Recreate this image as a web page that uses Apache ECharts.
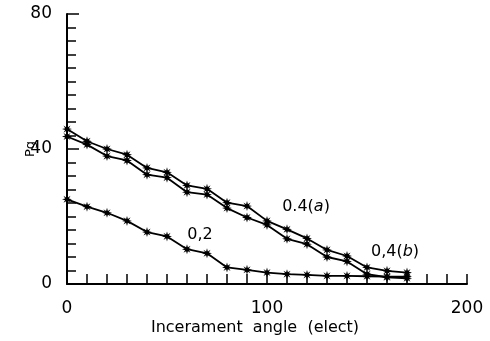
<!DOCTYPE html>
<html><head><meta charset="utf-8">
<script src="https://cdn.jsdelivr.net/npm/echarts@6/dist/echarts.min.js"></script>
<style>html,body{margin:0;padding:0;background:#fff}#c{width:490px;height:341px}</style>
</head><body><div id="c"></div>
<script>
const angles = [0,10,20,30,40,50,60,70,80,90,100,110,120,130,140,150,160,170];
const seriesA = [45.9,42.3,40.0,38.3,34.4,33.1,29.2,28.2,24.1,23.1,18.7,16.2,13.5,10.1,8.3,4.9,3.9,3.4];
const seriesB = [43.7,41.3,37.9,36.6,32.4,31.5,27.2,26.5,22.5,19.7,17.5,13.4,11.8,8.0,6.7,2.9,2.0,1.7];
const series02 = [25.1,22.9,21.1,18.7,15.4,14.1,10.3,9.1,4.9,4.2,3.4,2.9,2.7,2.4,2.4,2.3,2.2,2.2];
const annotations = [[119.5,23.0,'0.4({i|a})'],[164,9.4,'0,4({i|b})'],[66.5,14.5,'0,2']];
const xTicks = [0,100,200];
const yTicks = [0,40,80];

const FONT = 'DejaVu Sans';
const star = 'path://M0,-5L0.9,-1.9L3.54,-3.54L1.9,-0.9L5,0L1.9,0.9L3.54,3.54L0.9,1.9L0,5L-0.9,1.9L-3.54,3.54L-1.9,0.9L-5,0L-1.9,-0.9L-3.54,-3.54L-0.9,-1.9Z';
function pairs(v){return angles.map((a,i)=>[a,v[i]]);}
function lineSeries(v){
  return {type:'line',data:pairs(v),symbol:star,symbolSize:10,
    lineStyle:{color:'#000',width:1.8},itemStyle:{color:'#000'},z:3};
}
const chart = echarts.init(document.getElementById('c'),null,{renderer:'canvas'});
chart.setOption({
  animation:false,
  grid:{left:67,right:23,top:14,bottom:56},
  xAxis:{type:'value',min:xTicks[0],max:xTicks[2],interval:100,
    name:'Incerament  angle  (elect)',nameLocation:'middle',nameGap:36,nameMoveOverlap:false,
    nameTextStyle:{fontFamily:FONT,fontSize:16,color:'#000',padding:[0,24,0,0]},
    axisLine:{show:true,lineStyle:{color:'#000',width:2}},
    axisTick:{show:true,inside:true,length:10,lineStyle:{color:'#000',width:1.5}},
    minorTick:{show:true,splitNumber:10,length:10,lineStyle:{color:'#000',width:1.5}},
    axisLabel:{fontFamily:FONT,fontSize:17,color:'#000',margin:16},
    splitLine:{show:false}},
  yAxis:{type:'value',min:yTicks[0],max:yTicks[2],interval:40,
    name:'Pg',nameLocation:'middle',nameGap:30,nameRotate:90,nameMoveOverlap:false,
    nameTextStyle:{fontFamily:FONT,fontSize:13,color:'#000'},
    axisLine:{show:true,lineStyle:{color:'#000',width:2}},
    axisTick:{show:true,inside:true,length:12,lineStyle:{color:'#000',width:1.5}},
    minorTick:{show:true,splitNumber:10,length:9,lineStyle:{color:'#000',width:1.5}},
    axisLabel:{fontFamily:FONT,fontSize:17,color:'#000',margin:15},
    splitLine:{show:false}},
  series:[
    lineSeries(seriesA),
    lineSeries(seriesB),
    lineSeries(series02),
    {type:'scatter',data:annotations,symbolSize:0,itemStyle:{color:'#000',opacity:1},
     label:{show:true,position:'inside',fontFamily:FONT,fontSize:16,color:'#000',opacity:1,textBorderWidth:0,
       formatter:p=>p.data[2],rich:{i:{fontFamily:FONT,fontSize:16,fontStyle:'italic',color:'#000',textBorderWidth:0}}},
     z:5}
  ]
});
</script></body></html>
